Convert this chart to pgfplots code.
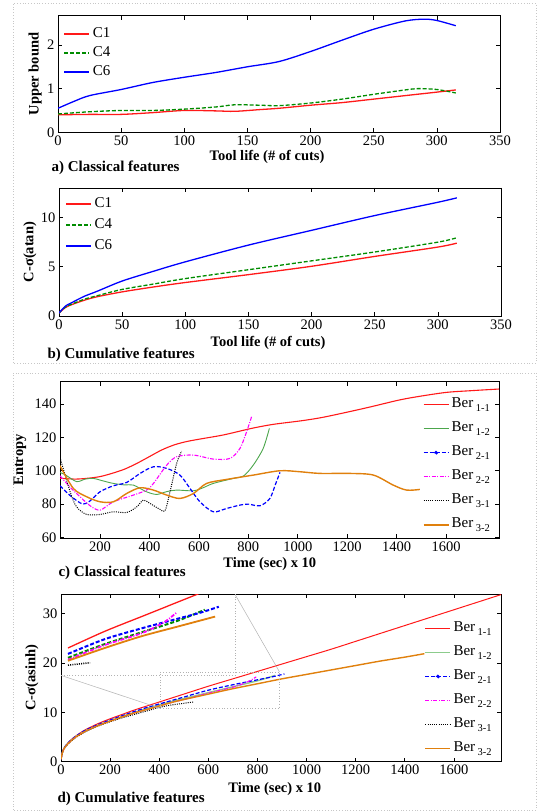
\documentclass[border=0pt]{standalone}
\usepackage{fontspec}
\setmainfont{Liberation Serif}
\usepackage{pgfplots}
\pgfplotsset{compat=1.18}
\definecolor{cred}{rgb}{1,0.1,0.1}
\definecolor{cgreen}{rgb}{0,0.55,0}
\definecolor{cblue}{rgb}{0,0,1}
\definecolor{lgreen}{rgb}{0.3,0.65,0.3}
\definecolor{llgreen}{rgb}{0.55,0.8,0.55}
\definecolor{cmag}{rgb}{1,0,1}
\definecolor{corange}{rgb}{0.88,0.5,0.05}
\definecolor{boxgray}{rgb}{0.78,0.78,0.78}
\pgfplotsset{
  base/.style={scale only axis, anchor=south west,
    axis line style={line width=0.9pt},
    every tick/.style={black,line width=0.7pt}, major tick length=4pt, tick align=inside,
    tick label style={font=\fontsize{14.5}{16}\selectfont},
    /pgf/number format/assume math mode=true, /pgf/number format/1000 sep={},
    label style={font=\bfseries\fontsize{14.5}{16}\selectfont},
    xlabel style={anchor=center}, ylabel style={anchor=center},
    legend cell align=left,
    legend image code/.code={\draw[##1] (0pt,0pt) -- (25pt,0pt);}},
  leg3a/.style={legend style={draw=none, fill=none, inner sep=0pt, row sep=0pt,
      font=\fontsize{15}{15}\selectfont,
      nodes={text height=10pt, text depth=3pt, inner sep=3pt}}},
  leg3b/.style={legend style={draw=none, fill=none, inner sep=0pt, row sep=2pt,
      font=\fontsize{15}{15}\selectfont,
      nodes={text height=10pt, text depth=3pt, inner sep=3pt}}},
  leg6/.style={legend style={draw=none, fill=none, inner sep=0pt, row sep=0pt,
      font=\fontsize{15}{15}\selectfont,
      nodes={text height=12pt, text depth=7pt, inner sep=2.5pt}}},
  dsh/.style={dash pattern=on 4pt off 2pt},
  dshdot/.style={dash pattern=on 4pt off 1.5pt on 1pt off 1.5pt},
  dts/.style={dash pattern=on 1pt off 1.2pt},
  bluedot/.style={legend image code/.code={\draw[##1] (0pt,0pt) -- (25pt,0pt); \fill[cblue] (12.5pt,0pt) circle (1.4pt);}},
}
\newcommand{\ber}[1]{Ber\,\raisebox{-4.5pt}{\fontsize{10.5}{12}\selectfont #1}}
\begin{document}
\begin{tikzpicture}
\path[use as bounding box] (0pt,0pt) rectangle (541pt,811pt);
\draw[boxgray, line width=0.8pt, dotted] (13pt,448pt) rectangle (536pt,808pt);
\draw[boxgray, line width=0.8pt, dotted] (13pt,1pt) rectangle (536pt,438pt);

% ---------------- panel a
\begin{axis}[base, leg3a, at={(58pt,678.7pt)}, width=442pt, height=116.6pt,
  xmin=0, xmax=350, ymin=0, ymax=2.67, xtick={0,50,...,350}, ytick={0,1,2},
  xlabel={Tool life (\# of cuts)}, ylabel={Upper bound},
  xlabel style={at={(axis description cs:0.473,-0.212)}},
  ylabel style={at={(axis description cs:-0.052,0.5)}},
  legend style={at={(0.012,0.927)}, anchor=north west}]
\addplot[cred, line width=1.3pt, smooth] coordinates {(0,0.40)(25,0.41)(50,0.41)(75,0.45)(100,0.50)(125,0.49)(140,0.48)(160,0.52)(175,0.55)(200,0.62)(225,0.68)(250,0.76)(275,0.84)(300,0.92)(315,0.97)};
\addlegendentry{C1}
\addplot[cgreen, line width=1.3pt, dsh, smooth] coordinates {(0,0.42)(25,0.47)(50,0.50)(75,0.50)(100,0.53)(125,0.58)(140,0.63)(160,0.62)(175,0.61)(200,0.67)(225,0.76)(250,0.87)(275,0.97)(285,1.00)(300,0.98)(315,0.90)};
\addlegendentry{C4}
\addplot[cblue, line width=1.3pt, smooth] coordinates {(0,0.55)(12,0.70)(25,0.84)(50,0.98)(75,1.14)(100,1.26)(125,1.37)(150,1.50)(175,1.62)(200,1.85)(225,2.11)(250,2.36)(275,2.55)(290,2.59)(300,2.56)(315,2.44)};
\addlegendentry{C6}
\end{axis}

% ---------------- panel b
\begin{axis}[base, leg3b, at={(59pt,495pt)}, width=442pt, height=128pt,
  xmin=0, xmax=350, ymin=0, ymax=13, xtick={0,50,...,350}, ytick={0,5,10},
  xlabel={Tool life (\# of cuts)}, ylabel={C-σ(atan)},
  xlabel style={at={(axis description cs:0.473,-0.211)}},
  ylabel style={at={(axis description cs:-0.066,0.5)}},
  legend style={at={(0.014,0.95)}, anchor=north west}]
\addplot[draw=cred, line width=1.3pt, smooth] coordinates {(0,0.3)(5,0.85)(10,1.15)(20,1.6)(30,1.95)(50,2.45)(75,2.95)(100,3.4)(150,4.2)(200,5.05)(250,6.05)(300,7.0)(315,7.4)};
\addlegendentry{C1}
\addplot[draw=cgreen, line width=1.3pt, dsh, smooth] coordinates {(0,0.3)(5,0.9)(10,1.2)(20,1.7)(30,2.05)(50,2.7)(75,3.25)(100,3.8)(150,4.7)(200,5.6)(250,6.5)(300,7.5)(315,7.95)};
\addlegendentry{C4}
\addplot[draw=cblue, line width=1.3pt, smooth] coordinates {(0,0.3)(5,1.0)(10,1.35)(20,2.0)(30,2.5)(50,3.55)(75,4.55)(100,5.5)(150,7.2)(200,8.7)(250,10.2)(300,11.55)(315,12.0)};
\addlegendentry{C6}
\end{axis}

\node[anchor=west, font=\bfseries\fontsize{15}{17}\selectfont] at (48pt,643pt) {a) Classical features};
\node[anchor=west, font=\bfseries\fontsize{15}{17}\selectfont] at (44pt,456pt) {b) Cumulative features};

% ---------------- panel c
\begin{axis}[base, leg6, at={(60pt,272.7pt)}, width=439pt, height=156.6pt,
  xmin=38, xmax=1814, ymin=59.5, ymax=153.4, xtick={200,400,...,1600}, ytick={60,80,...,140},
  xlabel={Time (sec) x 10}, ylabel={Entropy},
  xlabel style={at={(axis description cs:0.478,-0.166)}},
  ylabel style={at={(axis description cs:-0.091,0.5)}},
  legend style={at={(0.826,0.93)}, anchor=north west}]
\addplot[cred, line width=1.1pt, smooth] coordinates {(38,95.5)(100,95)(150,95.5)(200,96.5)(250,98.5)(300,101)(350,104.5)(400,108.5)(450,112.5)(500,115.5)(550,117.5)(604,119)(700,121.5)(813,125.4)(900,127.8)(1016,130)(1100,132)(1211,135.5)(1300,138.5)(1413,142.5)(1500,144.8)(1602,147)(1700,148)(1814,149)};
\addlegendentry{\ber{1-1}}
\addplot[lgreen, line width=0.9pt, smooth] coordinates {(38,99)(60,97.5)(105,93.5)(140,95)(173,95.4)(210,94)(254,92.4)(300,91.5)(335,91.4)(388,87.4)(429,85.8)(470,87.5)(510,88.4)(578,88)(620,90)(658,92.4)(739,95.4)(780,96.8)(820,103.4)(860,113.4)(885,125.4)};
\addlegendentry{\ber{1-2}}
\addplot[cblue, line width=1.2pt, dsh, smooth, bluedot] coordinates {(38,91)(80,85)(130,80)(160,82)(200,87.4)(254,91)(308,93)(362,98.4)(416,102.4)(470,101.4)(523,97.4)(564,89.4)(604,81.4)(658,75.4)(712,77.4)(766,79.4)(800,80)(847,79)(887,83.4)(910,92)(928,99)};
\addlegendentry{\ber{2-1}}
\addplot[cmag, line width=1.1pt, dshdot, smooth] coordinates {(38,97)(80,90)(119,84.4)(160,79)(200,76.4)(254,81.4)(335,85.4)(388,88.4)(416,92.4)(470,103.4)(510,108.4)(578,109.4)(658,107)(726,107.4)(766,113.4)(793,123.4)(813,132.4)};
\addlegendentry{\ber{2-2}}
\addplot[black, line width=1pt, dts, smooth] coordinates {(38,108)(79,87.4)(105,78.4)(146,73.8)(200,73.8)(254,75.4)(308,75)(349,78.4)(375,82.4)(402,80.4)(443,76.8)(463,76)(483,87.4)(510,104.4)(530,111.8)};
\addlegendentry{\ber{3-1}}
\addplot[corange, line width=1.4pt, smooth] coordinates {(38,103)(92,89.4)(146,84.4)(200,81.4)(254,81.4)(308,86.4)(362,89.8)(416,88.4)(470,85.4)(523,83.4)(578,86.4)(631,92.4)(712,94.8)(820,97.4)(928,100)(1009,99.4)(1090,98.4)(1211,98.4)(1306,97.4)(1386,91.4)(1440,88.4)(1494,88.8)};
\addlegendentry{\ber{3-2}}
\end{axis}

% ---------------- panel d
\begin{axis}[base, leg6, at={(61pt,49.3pt)}, width=440pt, height=167.7pt,
  xmin=0, xmax=1792, ymin=0, ymax=34, xtick={0,200,...,1600}, ytick={0,10,20,30},
  xlabel={Time (sec) x 10}, ylabel={C-σ(asinh)},
  xlabel style={at={(axis description cs:0.486,-0.165)}},
  ylabel style={at={(axis description cs:-0.066,0.5)}},
  legend style={at={(0.826,0.866)}, anchor=north west}]
\addplot[cred, line width=1pt, smooth] coordinates {(0,0.5)(5,1.8)(10,2.5)(20,3.3)(40,4.4)(60,5.2)(80,5.9)(100,6.5)(150,7.7)(200,8.7)(250,9.6)(300,10.5)(350,11.3)(400,12.1)(450,12.9)(500,13.7)(600,15.3)(700,16.8)(800,18.3)(900,19.8)(1000,21.3)(1100,22.8)(1200,24.4)(1300,26.0)(1400,27.6)(1500,29.2)(1600,30.8)(1700,32.4)(1800,34.0)};
\addlegendentry{\ber{1-1}}
\addplot[llgreen, line width=1.4pt, smooth] coordinates {(0,0.5)(5,1.8)(10,2.5)(20,3.3)(40,4.3)(60,5.1)(80,5.7)(100,6.3)(150,7.4)(200,8.3)(250,9.2)(300,10.0)(350,10.8)(400,11.5)(450,12.2)(500,12.8)(600,14.0)(700,15.2)(800,16.4)(872,17.5)};
\addlegendentry{\ber{1-2}}
\addplot[cblue, line width=1.2pt, dsh, smooth, bluedot] coordinates {(0,0.5)(5,1.8)(10,2.5)(20,3.3)(40,4.35)(60,5.15)(80,5.8)(100,6.4)(150,7.5)(200,8.45)(250,9.35)(300,10.2)(350,11.0)(400,11.7)(450,12.4)(500,13.1)(600,14.5)(700,15.6)(800,16.6)(860,17.2)(910,17.8)};
\addlegendentry{\ber{2-1}}
\addplot[cmag, line width=1.1pt, dshdot, smooth] coordinates {(0,0.5)(5,1.7)(10,2.4)(20,3.2)(40,4.2)(60,5.0)(80,5.6)(100,6.2)(150,7.3)(200,8.2)(250,9.1)(300,9.9)(350,10.6)(400,11.3)(450,12.0)(500,12.6)(600,13.9)(700,15.1)(760,16.2)(795,17.2)};
\addlegendentry{\ber{2-2}}
\addplot[black, line width=1pt, dts, smooth] coordinates {(0,0.5)(5,1.7)(10,2.35)(20,3.1)(40,4.1)(60,4.9)(80,5.5)(100,6.1)(150,7.2)(200,8.1)(250,8.9)(300,9.6)(350,10.3)(400,11.0)(450,11.5)(540,12.1)};
\addlegendentry{\ber{3-1}}
\addplot[corange, line width=1.4pt, smooth] coordinates {(0,0.5)(5,1.7)(10,2.4)(20,3.2)(40,4.2)(60,5.0)(80,5.6)(100,6.2)(150,7.3)(200,8.2)(250,9.1)(300,9.9)(350,10.6)(400,11.3)(450,12.0)(500,12.6)(600,13.7)(700,14.8)(800,15.8)(900,16.8)(1000,17.7)(1100,18.6)(1200,19.5)(1300,20.4)(1400,21.2)(1480,21.9)};
\addlegendentry{\ber{3-2}}
\draw[gray!60, dotted, line width=0.8pt] (axis cs:405,10.8) rectangle (axis cs:890,18.2);
\draw[gray!60, dotted, line width=0.8pt] (axis cs:0,17.5) -- (axis cs:709,17.5) -- (axis cs:709,33.9);
\draw[gray!60, line width=0.5pt] (axis cs:0,17.5) -- (axis cs:405,10.8);
\draw[gray!60, line width=0.5pt] (axis cs:709,33.9) -- (axis cs:890,18.2);
\end{axis}

% ---------------- inset
\begin{axis}[scale only axis, anchor=south west, at={(61pt,136pt)}, width=174pt, height=81pt,
  xmin=481, xmax=954, ymin=10.85, ymax=19.1, hide axis]
\addplot[cred, line width=1.3pt, smooth] coordinates {(500,13.6)(600,15.3)(700,16.8)(800,18.3)(900,19.8)};
\addplot[cgreen, line width=2pt, dsh, smooth] coordinates {(500,12.6)(600,14.0)(700,15.2)(800,16.4)(872,17.5)};
\addplot[cblue, line width=2pt, dsh, smooth] coordinates {(500,13.0)(600,14.5)(700,15.6)(800,16.6)(860,17.2)(910,17.8)};
\addplot[cmag, line width=1.8pt, dshdot, smooth] coordinates {(500,12.4)(600,13.9)(700,15.1)(760,16.2)(795,17.2)};
\addplot[black, line width=1.6pt, dts, smooth] coordinates {(500,11.85)(560,12.1)};
\addplot[corange, line width=1.8pt, smooth] coordinates {(500,12.3)(600,13.6)(700,14.8)(800,15.8)(900,16.8)};
\end{axis}

\node[anchor=west, font=\bfseries\fontsize{15}{17}\selectfont] at (55pt,238pt) {c) Classical features};
\node[anchor=west, font=\bfseries\fontsize{15}{17}\selectfont] at (54pt,12pt) {d) Cumulative features};
\end{tikzpicture}
\end{document}
